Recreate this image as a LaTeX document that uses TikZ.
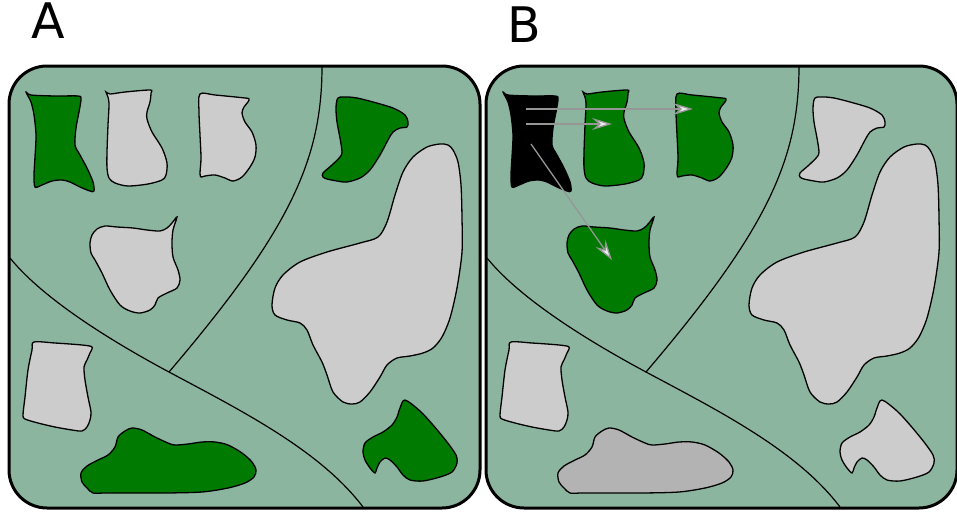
\documentclass[tikz,border=0pt]{standalone}
\usepackage{fontspec}
\setsansfont{DejaVu Sans}
\usetikzlibrary{arrows.meta}

\definecolor{field}{RGB}{140,181,160}
\definecolor{crop}{RGB}{0,122,0}
\definecolor{fallow}{RGB}{204,204,204}
\definecolor{harvest}{RGB}{179,179,179}
\definecolor{trace}{RGB}{150,150,150}

\tikzset{
  panel/.style={draw=black, line width=3pt, rounded corners=38pt, fill=field},
  border/.style={line width=1.2pt},
  patch/.style={draw=black, line width=1.3pt},
  move/.style={draw=trace, line width=1.3pt,
    -{Stealth[length=20pt,width=12pt,inset=7pt,fill=gray!15]}},
  tag/.style={font=\sffamily\fontsize{49}{49}\selectfont, inner sep=0pt, anchor=base west}
}

% outlines of the plots, in pixel units
\newcommand\pHourglass{plot[smooth cycle, tension=0.5] coordinates {(26,92) (31,95) (55,96) (78,96) (81,99) (79,112) (76,128) (75,145) (80,155) (87,168) (93,182) (94,191) (90,191) (80,187) (70,182) (62,180) (52,181) (42,185) (35,187) (34,175) (35,157) (36,135) (34,115) (31,102)}}
\newcommand\pVase{plot[smooth cycle, tension=0.5] coordinates {(106,92) (110,94) (125,92) (150,90) (151,93) (150,102) (147,112) (147,119) (152,132) (162,148) (167,163) (166,175) (162,180) (148,184) (128,186) (115,183) (109,178) (107,168) (107,152) (108,125) (109,105) (108,97)}}
\newcommand\pJug{plot[smooth cycle, tension=0.5] coordinates {(200,94) (215,95) (245,98) (249,99) (248,102) (244,107) (242,113) (245,122) (252,132) (256,145) (255,157) (250,167) (242,177) (233,181) (225,178) (215,175) (205,176) (201,177) (200,173) (201,158) (200,135) (199,112)}}
\newcommand\pKite{plot[smooth cycle, tension=0.5] coordinates {(177,217) (173,230) (172,243) (173,257) (178,270) (180,280) (177,288) (167,293) (158,298) (155,305) (150,310) (140,313) (130,311) (120,305) (110,290) (102,273) (95,260) (91,253) (90,243) (92,235) (97,229) (105,226) (117,227) (133,228) (147,230) (160,231) (167,228) (172,223)}}
\newcommand\pFlag{plot[smooth cycle, tension=0.5] coordinates {(338,98) (347,97) (357,98) (373,102) (393,108) (405,115) (408,122) (407,127) (400,128) (393,132) (388,140) (380,155) (370,170) (360,178) (347,182) (337,181) (327,179) (323,177) (323,173) (332,165) (340,157) (342,152) (340,138) (337,122) (336,108)}}
\newcommand\pBlob{plot[smooth cycle, tension=0.5] coordinates {(448,145) (440,144) (427,147) (413,157) (403,172) (395,195) (387,222) (378,237) (360,243) (327,252) (300,262) (283,275) (275,288) (272,305) (275,315) (287,320) (300,323) (307,330) (313,345) (322,362) (327,375) (333,392) (343,402) (352,404) (360,402) (370,392) (380,377) (387,365) (397,358) (410,356) (423,353) (433,348) (442,337) (450,318) (457,288) (462,252) (462,218) (461,185) (458,162) (453,150)}}
\newcommand\pSlab{plot[smooth cycle, tension=0.5] coordinates {(34,342) (55,343) (82,345) (92,347) (90,353) (87,360) (84,367) (85,380) (88,397) (91,412) (90,420) (87,427) (82,431) (72,430) (55,427) (38,423) (25,419) (23,415) (25,397) (28,370) (32,350)}}
\newcommand\pMound{plot[smooth cycle, tension=0.5] coordinates {(93,493) (87,488) (82,482) (81,473) (87,466) (98,460) (108,455) (115,447) (118,437) (125,431) (132,428) (142,430) (155,437) (168,443) (175,445) (188,444) (202,442) (215,442) (228,445) (242,453) (252,462) (256,470) (254,477) (245,483) (228,488) (202,492) (165,493) (132,493) (105,493)}}
\newcommand\pHook{plot[smooth cycle, tension=0.5] coordinates {(405,400) (400,408) (397,417) (392,425) (383,432) (373,437) (365,443) (363,452) (365,460) (370,468) (375,473) (377,468) (380,462) (385,458) (390,460) (397,467) (403,475) (410,480) (423,481) (440,477) (452,472) (457,463) (456,455) (447,442) (433,425) (420,411)}}
% field boundaries
\newcommand\pDivide{%
  \draw[border] (322,66) .. controls (322,160) and (290,230) .. (169,372);
  \draw[border] (10,258) .. controls (40,295) and (100,335) .. (169,372)
    .. controls (240,410) and (320,450) .. (363,507);}

\begin{document}
\begin{tikzpicture}[x=1pt,y=-1pt]
\useasboundingbox (0,0) rectangle (957,511);

\node[tag] (labA) at (31,39) {A};
\node[tag] (labB) at (507,42) {B};

% before
\draw[panel] (9,66) rectangle (480,508);
\pDivide
\draw[patch, fill=crop] \pHourglass;
\draw[patch, fill=fallow] \pVase;
\draw[patch, fill=fallow] \pJug;
\draw[patch, fill=fallow] \pKite;
\draw[patch, fill=crop] \pFlag;
\draw[patch, fill=fallow] \pBlob;
\draw[patch, fill=fallow] \pSlab;
\draw[patch, fill=crop] \pMound;
\draw[patch, fill=crop] \pHook;

% after
\begin{scope}[xshift=477pt]
\draw[panel] (9,66) rectangle (480,508);
\pDivide
\draw[patch, fill=black] \pHourglass;
\draw[patch, fill=crop] \pVase;
\draw[patch, fill=crop] \pJug;
\draw[patch, fill=crop] \pKite;
\draw[patch, fill=fallow] \pFlag;
\draw[patch, fill=fallow] \pBlob;
\draw[patch, fill=fallow] \pSlab;
\draw[patch, fill=harvest] \pMound;
\draw[patch, fill=fallow] \pHook;

\coordinate (seedA) at (49,109);
\coordinate (destA) at (216,109);
\coordinate (seedB) at (49,124);
\coordinate (destB) at (135,124);
\coordinate (seedC) at (54,144);
\coordinate (destC) at (135,260);
\draw[move] (seedA) -- (destA);
\draw[move] (seedB) -- (destB);
\draw[move] (seedC) -- (destC);
\end{scope}
\end{tikzpicture}
\end{document}
